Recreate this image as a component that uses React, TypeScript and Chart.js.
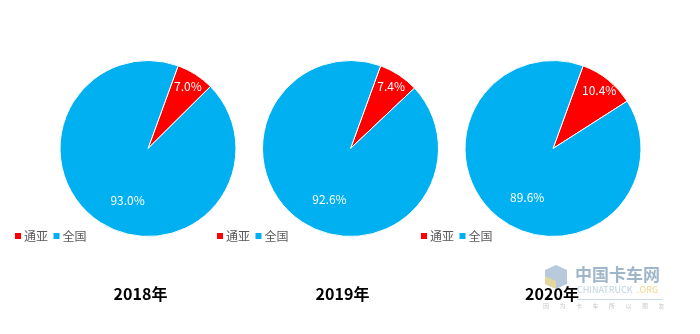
import React, { useEffect, useRef } from "react";
import { Chart, registerables } from "chart.js";

Chart.register(...registerables);

// ---- data ----
const categories = ["通亚", "全国"];
const years = ["2018年", "2019年", "2020年"];
const tongyaShare = [7.0, 7.4, 10.4];
const nationalShare = [93.0, 92.6, 89.6];
const sliceColors = ["#FF0000", "#00B0F0"];

// ---- layout ----
const W = 700;
const H = 334;
const R = 88;
const centersX = [148, 350.5, 553];
const centerY = 148.5;
const legendX = [15, 217, 421];
const legendY = 236;
const titleX = [140.5, 342.5, 552];
const titleY = 294;
const FONT = '"Noto Sans CJK SC", "Noto Sans", sans-serif';

function makeDecorPlugin(idx: number) {
  return {
    id: "decor" + idx,
    afterDatasetsDraw(chart: any) {
      const ctx = chart.ctx;
      const meta = chart.getDatasetMeta(0);
      ctx.save();
      // slice labels
      ctx.fillStyle = "#FFFFFF";
      ctx.font = "12px " + FONT;
      ctx.textAlign = "center";
      ctx.textBaseline = "middle";
      meta.data.forEach((arc: any, i: number) => {
        const p = arc.getProps(["x", "y", "startAngle", "endAngle", "outerRadius"], true);
        let mid = (p.startAngle + p.endAngle) / 2;
        let frac = 0.84;
        if (i === 1) {
          mid -= (11 * Math.PI) / 180;
          frac = 0.63;
        }
        const x = p.x + Math.cos(mid) * p.outerRadius * frac;
        const y = p.y + Math.sin(mid) * p.outerRadius * frac;
        const v = chart.data.datasets[0].data[i] as number;
        ctx.fillText(v.toFixed(1) + "%", x, y);
      });
      // legend
      const lx = legendX[idx];
      ctx.font = "12px " + FONT;
      ctx.textAlign = "left";
      ctx.textBaseline = "middle";
      const offs = [0, 38.5];
      chart.data.labels.forEach((lab: string, i: number) => {
        const x0 = lx + offs[i];
        ctx.fillStyle = sliceColors[i];
        ctx.fillRect(x0, legendY - 3, 6, 6);
        ctx.fillStyle = "#595959";
        ctx.fillText(lab, x0 + 9, legendY);
      });
      // title
      ctx.fillStyle = "#000000";
      ctx.font = "bold 16px " + FONT;
      ctx.textAlign = "center";
      ctx.fillText(years[idx], titleX[idx], titleY);
      ctx.restore();
    },
    afterDraw(chart: any) {
      if (idx !== 2) return;
      const ctx = chart.ctx;
      ctx.save();
      ctx.globalAlpha = 0.75;
      // cube logo
      ctx.fillStyle = "#9DB8CF";
      ctx.beginPath();
      ctx.moveTo(556, 265);
      ctx.lineTo(567, 270);
      ctx.lineTo(567, 284);
      ctx.lineTo(556, 289);
      ctx.lineTo(545, 284);
      ctx.lineTo(545, 270);
      ctx.closePath();
      ctx.fill();
      ctx.fillStyle = "#F3D98A";
      ctx.beginPath();
      ctx.moveTo(545, 276);
      ctx.lineTo(556, 281);
      ctx.lineTo(556, 289);
      ctx.lineTo(545, 284);
      ctx.closePath();
      ctx.fill();
      ctx.fillStyle = "#7F9DB8";
      ctx.font = "bold 17px " + FONT;
      ctx.textAlign = "left";
      ctx.textBaseline = "middle";
      ctx.fillText("中国卡车网", 575, 275);
      ctx.font = "9px " + FONT;
      ctx.fillStyle = "#A9C3D8";
      ctx.fillText("CHINATRUCK", 577, 290);
      ctx.fillStyle = "#F2C66A";
      ctx.fillText(".ORG", 637, 290);
      ctx.strokeStyle = "#B8CCDD";
      ctx.lineWidth = 1;
      ctx.beginPath();
      ctx.moveTo(577, 299.5);
      ctx.lineTo(663, 299.5);
      ctx.stroke();
      ctx.fillStyle = "#B5B5B5";
      ctx.font = "6px " + FONT;
      const slogan = "因为卡车所以朋友";
      for (let k = 0; k < slogan.length; k++) {
        ctx.fillText(slogan[k], 543 + k * 16.5, 306);
      }
      ctx.restore();
    },
  };
}

function PieCanvas({ idx }: { idx: number }) {
  const ref = useRef<HTMLCanvasElement | null>(null);
  useEffect(() => {
    if (!ref.current) return;
    const cx = centersX[idx];
    const chart = new Chart(ref.current, {
      type: "pie",
      data: {
        labels: categories,
        datasets: [
          {
            data: [tongyaShare[idx], nationalShare[idx]],
            backgroundColor: sliceColors,
            borderColor: "#FFFFFF",
            borderWidth: 1,
          },
        ],
      },
      options: {
        responsive: false,
        animation: false,
        rotation: 20,
        layout: {
          padding: {
            left: cx - R - 0.5,
            right: W - (cx + R) - 0.5,
            top: centerY - R - 0.5,
            bottom: H - (centerY + R) - 0.5,
          },
        },
        plugins: {
          legend: { display: false },
          tooltip: { enabled: false },
          title: { display: false },
        },
      },
      plugins: [makeDecorPlugin(idx)],
    });
    return () => chart.destroy();
  }, [idx]);
  return (
    <canvas
      ref={ref}
      width={W}
      height={H}
      style={{ position: "absolute", left: 0, top: 0, width: W, height: H }}
    />
  );
}

export default function App() {
  useEffect(() => {
    document.body.style.margin = "0";
  }, []);
  return (
    <div style={{ position: "relative", width: W, height: H, background: "#FFFFFF" }}>
      {years.map((_, i) => (
        <PieCanvas key={i} idx={i} />
      ))}
    </div>
  );
}
